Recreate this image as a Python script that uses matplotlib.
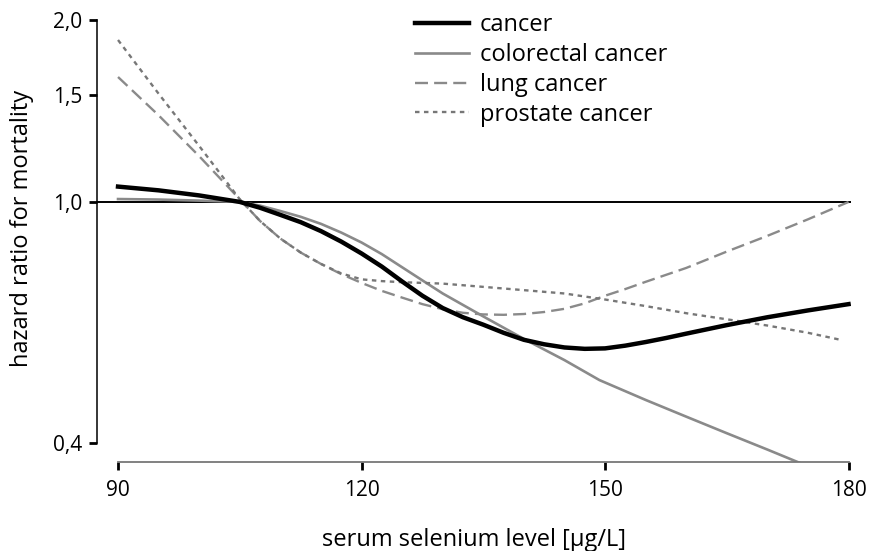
import matplotlib
matplotlib.use("Agg")
import matplotlib.pyplot as plt
from matplotlib.lines import Line2D
from matplotlib.ticker import NullLocator, FixedLocator

plt.rcParams['font.family'] = ['Open Sans', 'DejaVu Sans']

# serum selenium level (x) and hazard ratios
x_cancer = [90, 95, 100, 105, 107.5, 110, 112.5, 115, 117.5, 120, 122.5, 125, 127.5, 130, 132.5, 135,
            137.5, 140, 142.5, 145, 147.5, 150, 152.5, 155, 157.5, 160, 165, 170, 175, 180]
hr_cancer = [1.06, 1.045, 1.025, 1.0, 0.978, 0.952, 0.926, 0.895, 0.86, 0.822, 0.782, 0.739, 0.70, 0.668,
             0.645, 0.627, 0.608, 0.592, 0.582, 0.575, 0.572, 0.573, 0.579, 0.587, 0.596, 0.606,
             0.626, 0.645, 0.662, 0.678]

x_colorectal = [90, 95, 100, 105, 107.5, 110, 112.5, 115, 117.5, 120, 122.5, 125, 127.5, 130, 135, 140,
                145, 149.3, 155, 160, 165, 170, 175, 180]
hr_colorectal = [1.011, 1.009, 1.005, 1.0, 0.986, 0.966, 0.945, 0.92, 0.89, 0.857, 0.82, 0.78, 0.742, 0.706,
                 0.647, 0.594, 0.548, 0.508, 0.471, 0.442, 0.415, 0.39, 0.366, 0.343]

x_lung = [90, 95, 100, 105, 107.5, 110, 112.5, 115, 117.5, 120, 122.5, 125, 127.5, 130, 132.5, 135, 137.5,
          140, 142.5, 145, 147.5, 150, 152.5, 155, 160, 165, 170, 175, 180]
hr_lung = [1.608, 1.39, 1.19, 1.01, 0.93, 0.87, 0.825, 0.79, 0.76, 0.735, 0.713, 0.695, 0.678, 0.665, 0.656,
           0.652, 0.651, 0.653, 0.658, 0.666, 0.68, 0.70, 0.718, 0.738, 0.778, 0.828, 0.879, 0.936, 1.0]

x_prostate = [90, 95, 100, 105, 107.5, 110, 112.5, 115, 117.5, 120, 122.5, 125, 130, 135, 140, 145, 150,
              155, 160, 165, 170, 175, 179]
hr_prostate = [1.851, 1.509, 1.237, 1.01, 0.93, 0.87, 0.825, 0.79, 0.762, 0.745, 0.74, 0.737, 0.733, 0.724,
               0.715, 0.706, 0.69, 0.673, 0.655, 0.64, 0.625, 0.608, 0.592]

y_ticks = [0.4, 1.0, 1.5, 2.0]
y_tick_labels = ['0,4', '1,0', '1,5', '2,0']
x_ticks = [90, 120, 150, 180]

fig = plt.figure(figsize=(8.72, 5.51), dpi=100)
ax = fig.add_axes([97 / 872, 89 / 551, 754 / 872, 445 / 551])

styles = {
    'cancer': dict(color='black', lw=3.2, ls='-'),
    'colorectal cancer': dict(color='#8a8a8a', lw=1.9, ls='-'),
    'lung cancer': dict(color='#8a8a8a', lw=1.7, ls=(0, (5.5, 2.6))),
    'prostate cancer': dict(color='#777777', lw=1.7, ls=(0, (1.9, 1.9))),
}

ax.axhline(1.0, color='black', lw=1.4, zorder=1)
ax.plot(x_colorectal, hr_colorectal, **styles['colorectal cancer'], zorder=2)
ax.plot(x_lung, hr_lung, **styles['lung cancer'], zorder=2)
ax.plot(x_prostate, hr_prostate, **styles['prostate cancer'], zorder=2)
ax.plot(x_cancer, hr_cancer, **styles['cancer'], zorder=3)

ax.set_yscale('log')
ax.set_ylim(0.372, 2.02)
ax.set_xlim(87.41, 180.3)

ax.yaxis.set_major_locator(FixedLocator(y_ticks))
ax.yaxis.set_minor_locator(NullLocator())
ax.set_yticklabels(y_tick_labels)
ax.set_xticks(x_ticks)
ax.set_xticklabels([str(t) for t in x_ticks])

for s in ['top', 'right']:
    ax.spines[s].set_visible(False)
ax.spines['left'].set_bounds(0.4, 2.0)
ax.spines['left'].set_linewidth(1.1)
ax.spines['bottom'].set_bounds(90, 180)
ax.spines['bottom'].set_color('#777777')
ax.spines['bottom'].set_linewidth(1.3)

ax.tick_params(axis='y', direction='out', length=5.5, width=2.0, pad=5, labelsize=15)
ax.tick_params(axis='x', direction='out', length=6, width=2.0, pad=7, labelsize=15)

fig.text(474 / 872, 1 - 540 / 551, 'serum selenium level [µg/L]', ha='center', va='center', fontsize=17)
fig.text(22 / 872, 1 - 228 / 551, 'hazard ratio for mortality', ha='center', va='center',
         rotation=90, fontsize=17)

handles = [Line2D([], [], **styles[k]) for k in styles]
ax.legend(handles, list(styles.keys()), loc='upper left', bbox_to_anchor=(415 / 872, 1 - 13 / 551),
          bbox_transform=fig.transFigure, frameon=False, fontsize=17, handlelength=2.3,
          handletextpad=0.45, labelspacing=0.25, borderpad=0, borderaxespad=0)

fig.savefig('out.png', dpi=100)
